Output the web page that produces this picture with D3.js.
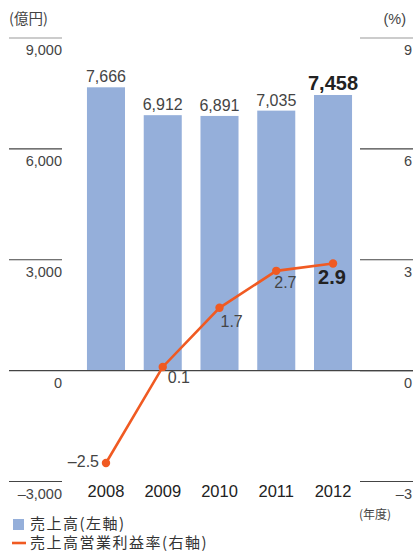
<!DOCTYPE html>
<html>
<head>
<meta charset="utf-8">
<script src="https://cdn.jsdelivr.net/npm/d3@7"></script>
<style>
  body { margin: 0; background: #fff; }
  svg text { font-family: "Liberation Sans", Arial, "Noto Sans CJK JP", sans-serif; }
  .jp { font-family: "Noto Sans CJK JP", sans-serif; }
</style>
</head>
<body>
<svg id="chart"></svg>
<script>
const years = ["2008", "2009", "2010", "2011", "2012"];
const sales = [7666, 6912, 6891, 7035, 7458];
const margin = [-2.5, 0.1, 1.7, 2.7, 2.9];
const leftTicks = [-3000, 0, 3000, 6000, 9000];
const rightTicks = [-3, 0, 3, 6, 9];
const marginLabelOffsets = [[-7, 4, "end"], [5, 16, "start"], [1, 19, "start"], [-2, 17, "start"], [-15, 21, "start"]];

const W = 414, H = 552;
const barColor = "#95afda";
const lineColor = "#f05a22";

const svg = d3.select("#chart").attr("width", W).attr("height", H);

const x = d3.scaleBand().domain(years).range([77.6, 361.4]).paddingInner(0.33).paddingOuter(0.165);
const yL = d3.scaleLinear().domain([-3000, 9000]).range([481.5, 38]);
const yR = d3.scaleLinear().domain([-3, 9]).range([481.5, 38]);

// bars
svg.selectAll("rect.bar").data(sales).join("rect")
  .attr("class", "bar")
  .attr("x", (d, i) => x(years[i]))
  .attr("width", x.bandwidth())
  .attr("y", d => yL(d))
  .attr("height", d => yL(0) - yL(d))
  .attr("fill", barColor);

svg.selectAll("text.barlab").data(sales).join("text")
  .attr("class", "barlab")
  .attr("x", (d, i) => x(years[i]) + x.bandwidth() / 2)
  .attr("y", d => yL(d) - 5)
  .attr("text-anchor", "middle")
  .attr("font-size", (d, i) => i === 4 ? 20 : 16)
  .attr("font-weight", (d, i) => i === 4 ? "bold" : "normal")
  .attr("fill", (d, i) => i === 4 ? "#222" : "#444")
  .text(d => d3.format(",")(d));

// left axis segments
const fmtL = d => (d < 0 ? "\u2013" : "") + d3.format(",")(Math.abs(d));
svg.selectAll("line.lt").data(leftTicks).join("line")
  .attr("class", "lt")
  .attr("x1", 9).attr("x2", d => d === 0 ? 413 : 62)
  .attr("y1", d => yL(d)).attr("y2", d => yL(d))
  .attr("stroke", d => d === 9000 ? "#999" : "#444")
  .attr("stroke-width", 1.2);
svg.selectAll("text.lt").data(leftTicks).join("text")
  .attr("class", "lt")
  .attr("x", 62).attr("y", d => yL(d) + 17)
  .attr("text-anchor", "end")
  .attr("font-size", 14.5).attr("fill", "#444")
  .text(fmtL);

// right axis segments
svg.selectAll("line.rt").data(rightTicks).join("line")
  .attr("class", "rt")
  .attr("x1", 360).attr("x2", 413)
  .attr("y1", d => yR(d)).attr("y2", d => yR(d))
  .attr("stroke", d => d === 9 ? "#999" : "#444")
  .attr("stroke-width", 1.2);
svg.selectAll("text.rt").data(rightTicks).join("text")
  .attr("class", "rt")
  .attr("x", 412).attr("y", d => yR(d) + 17)
  .attr("text-anchor", "end")
  .attr("font-size", 14.5).attr("fill", "#444")
  .text(d => (d < 0 ? "\u2013" : "") + Math.abs(d));

// unit labels
svg.append("text").attr("class", "jp").attr("x", 9).attr("y", 24)
  .attr("font-size", 14.5).attr("fill", "#444").text("(億円)");
svg.append("text").attr("x", 406).attr("y", 24).attr("text-anchor", "end")
  .attr("font-size", 14.5).attr("fill", "#444").text("(%)");

// year labels
svg.selectAll("text.year").data(years).join("text")
  .attr("class", "year")
  .attr("x", d => x(d) + x.bandwidth() / 2)
  .attr("y", 497)
  .attr("text-anchor", "middle")
  .attr("font-size", 16.5).attr("fill", "#222")
  .text(d => d);
svg.append("text").attr("class", "jp").attr("x", 375).attr("y", 519).attr("text-anchor", "middle")
  .attr("font-size", 12).attr("fill", "#444").text("(年度)");

// line
const line = d3.line()
  .x((d, i) => x(years[i]) + x.bandwidth() / 2)
  .y(d => yR(d));
svg.append("path").datum(margin)
  .attr("d", line)
  .attr("fill", "none")
  .attr("stroke", lineColor)
  .attr("stroke-width", 2.6);
svg.selectAll("circle.pt").data(margin).join("circle")
  .attr("class", "pt")
  .attr("cx", (d, i) => x(years[i]) + x.bandwidth() / 2)
  .attr("cy", d => yR(d))
  .attr("r", 4.2)
  .attr("fill", lineColor);
svg.selectAll("text.ml").data(margin).join("text")
  .attr("class", "ml")
  .attr("x", (d, i) => x(years[i]) + x.bandwidth() / 2 + marginLabelOffsets[i][0])
  .attr("y", (d, i) => yR(d) + marginLabelOffsets[i][1])
  .attr("text-anchor", (d, i) => marginLabelOffsets[i][2])
  .attr("font-size", (d, i) => i === 4 ? 20 : 16)
  .attr("font-weight", (d, i) => i === 4 ? "bold" : "normal")
  .attr("fill", (d, i) => i === 4 ? "#222" : "#444")
  .text(d => (d < 0 ? "\u2013" : "") + Math.abs(d).toFixed(1));

// legend
const legend = svg.append("g");
legend.append("rect").attr("x", 13).attr("y", 519).attr("width", 11).attr("height", 11).attr("fill", barColor);
legend.append("text").attr("class", "jp").attr("x", 30).attr("y", 529)
  .attr("font-size", 15).attr("letter-spacing", 1.5).attr("fill", "#333").text("売上高(左軸)");
legend.append("line").attr("x1", 12).attr("x2", 26).attr("y1", 543).attr("y2", 543)
  .attr("stroke", lineColor).attr("stroke-width", 2.6);
legend.append("text").attr("class", "jp").attr("x", 30).attr("y", 548)
  .attr("font-size", 15).attr("letter-spacing", 1.5).attr("fill", "#333").text("売上高営業利益率(右軸)");
</script>
</body>
</html>
